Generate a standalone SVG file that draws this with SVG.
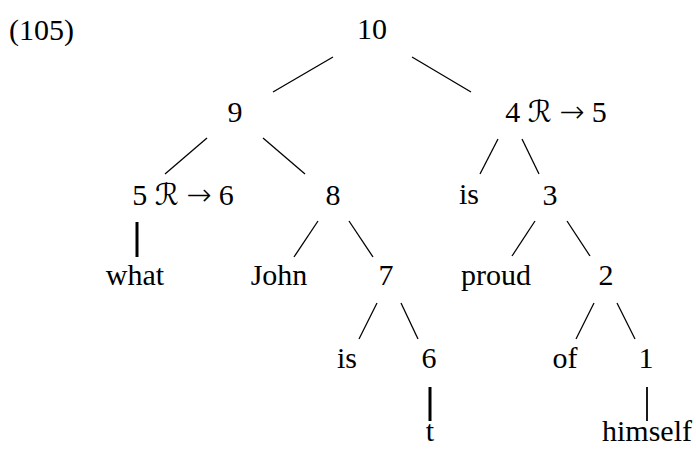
<svg xmlns="http://www.w3.org/2000/svg" width="696" height="450" viewBox="0 0 696 450">
<style>
text{font-family:"Liberation Serif","DejaVu Serif",serif;font-size:30px;fill:#000;text-anchor:middle}
.cal{font-family:"DejaVu Sans",serif}
.ar{font-family:"DejaVu Sans",sans-serif;font-size:30px;font-weight:200}
.e{stroke:#000;stroke-width:1.3;fill:none}
.t{stroke:#000;stroke-width:3;fill:none}
.m{stroke:#000;stroke-width:1.8;fill:none}
</style>
<rect width="696" height="450" fill="#fff"/>
<text x="9" y="40" style="text-anchor:start">(105)</text>
<g id="connectors">
<line class="e" x1="333" y1="57" x2="273" y2="92"/>
<line class="e" x1="412" y1="57" x2="471" y2="92"/>
<line class="e" x1="207" y1="138" x2="165" y2="174"/>
<line class="e" x1="263" y1="138" x2="305" y2="174"/>
<line class="e" x1="498" y1="139" x2="480" y2="174"/>
<line class="e" x1="522" y1="139" x2="539" y2="174"/>
<line class="t" x1="137" y1="222" x2="137" y2="257"/>
<line class="e" x1="318" y1="221" x2="294" y2="257"/>
<line class="e" x1="349" y1="221" x2="373" y2="257"/>
<line class="e" x1="535" y1="221" x2="512" y2="256"/>
<line class="e" x1="567" y1="221" x2="590" y2="256"/>
<line class="e" x1="377" y1="303" x2="359" y2="339"/>
<line class="e" x1="401" y1="303" x2="418" y2="339"/>
<line class="e" x1="594" y1="303" x2="576" y2="339"/>
<line class="e" x1="617" y1="303" x2="635" y2="339"/>
<line class="t" x1="430" y1="387" x2="430" y2="421"/>
<line class="m" x1="647" y1="387" x2="647" y2="421"/>
</g>
<g id="n10"><text x="372" y="39">10</text></g>
<g id="n9"><text x="235" y="122">9</text></g>
<g id="n4"><text x="556" y="122">4 <tspan class="cal">ℛ</tspan> <tspan class="ar">→</tspan> 5</text></g>
<g id="n5"><text x="183" y="205">5 <tspan class="cal">ℛ</tspan> <tspan class="ar">→</tspan> 6</text></g>
<g id="n8"><text x="333" y="205">8</text></g>
<g id="is1"><text x="469" y="204">is</text></g>
<g id="n3"><text x="550" y="205">3</text></g>
<g id="what"><text x="135" y="285">what</text></g>
<g id="john"><text x="279" y="285">John</text></g>
<g id="n7"><text x="386" y="285">7</text></g>
<g id="proud"><text x="496" y="285">proud</text></g>
<g id="n2"><text x="606" y="285">2</text></g>
<g id="is2"><text x="347" y="368">is</text></g>
<g id="n6"><text x="429" y="368">6</text></g>
<g id="of"><text x="565" y="368">of</text></g>
<g id="n1"><text x="646" y="368">1</text></g>
<g id="t"><text x="430" y="441">t</text></g>
<g id="himself"><text x="647" y="441">himself</text></g>
</svg>
